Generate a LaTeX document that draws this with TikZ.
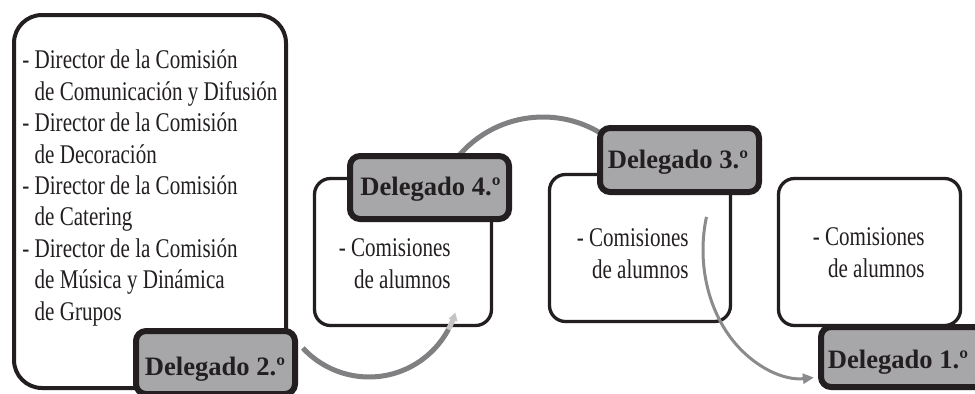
\documentclass[tikz,border=0pt]{standalone}
\usepackage{fontspec}
\usetikzlibrary{arrows.meta}
\newfontfamily\bodyfont[FakeStretch=0.78]{Liberation Serif}
\newfontfamily\delfont{Liberation Serif}
\definecolor{ink}{HTML}{231F20}
\definecolor{delfill}{HTML}{A7A7A9}
\definecolor{arcgray}{HTML}{808083}
\definecolor{arcpale}{HTML}{C4C4C6}
\definecolor{arcmid}{HTML}{8B8B8D}
\tikzset{
  bigbox/.style={draw=ink, line width=2pt, rounded corners=14pt},
  listbox/.style={draw=ink, line width=1.65pt, rounded corners=8pt},
  delbox/.style={draw=ink, fill=delfill, line width=3pt, rounded corners=5pt},
  bodytext/.style={font=\bodyfont\fontsize{13.5pt}{15.69pt}\selectfont, text=ink, inner sep=0pt},
  deltext/.style={font=\delfont\bfseries\fontsize{13.3pt}{16pt}\selectfont, text=ink, inner sep=0pt},
  cyclearc/.style={draw=arcgray, line width=2.5pt},
}
\begin{document}
\begin{tikzpicture}[x=0.5pt,y=-0.5pt]
\useasboundingbox (0,0) rectangle (975,393);
\clip (0,0) rectangle (975,393);
\fill[white] (0,0) rectangle (975,393);

% content boxes
\draw[bigbox]  (14,15) rectangle (286,388);
\draw[listbox] (314.5,178.5) rectangle (491.5,325.5);
\draw[listbox] (549.5,174.5) rectangle (730.5,321.5);
\draw[listbox] (778.5,178.5) rectangle (960.5,325.5);

% arcs
\coordinate (a1s) at ({369+90*cos(137.3)},{287+90*sin(137.3)});
\coordinate (a1m) at ({369+90*cos(28)},{287+90*sin(28)});
\draw[cyclearc] (a1s) arc[start angle=137.3, end angle=28, radius=90];
\draw[draw=arcpale, line width=2.5pt, -{Triangle[length=4pt,width=4.5pt]}] (a1m) arc[start angle=28, end angle=16.5, radius=90];

\coordinate (a2s) at ({543+111*cos(-140)},{228+111*sin(-140)});
\draw[cyclearc] (a2s) arc[start angle=-140, end angle=-55, radius=111];

\coordinate (a3s) at ({805+102*cos(195)},{250+128*sin(195)});
\draw[draw=arcmid, line width=1.5pt, -{Triangle[length=5.5pt,width=5pt]}] (a3s) arc[start angle=195, end angle=85, x radius=102, y radius=128];

% delegate boxes
\draw[delbox] (350,156) rectangle (509,219);
\draw[delbox] (600,128) rectangle (759,192);
\draw[delbox] (136,331) rectangle (295,394);
\draw[delbox] (821,327) rectangle (985,387);

% texts (base anchor = baseline of the last line)
\node[bodytext, align=left, anchor=base west] (list2) at (22,320) {- Director de la Comisión\\
\hphantom{- }de Comunicación y Difusión\\
- Director de la Comisión\\
\hphantom{- }de Decoración\\
- Director de la Comisión\\
\hphantom{- }de Catering\\
- Director de la Comisión\\
\hphantom{- }de Música y Dinámica\\
\hphantom{- }de Grupos};
\node[bodytext, align=right, anchor=base east] (list4) at (451,288) {- Comisiones\\de alumnos};
\node[bodytext, align=right, anchor=base east] (list3) at (689,278) {- Comisiones\\de alumnos};
\node[bodytext, align=right, anchor=base east] (list1) at (925,277) {- Comisiones\\de alumnos};

\node[deltext, anchor=base] (d4) at (430.5,195) {Delegado 4.º};
\node[deltext, anchor=base] (d3) at (678,168) {Delegado 3.º};
\node[deltext, anchor=base] (d2) at (215,375) {Delegado 2.º};
\node[deltext, anchor=base] (d1) at (898,368) {Delegado 1.º};
\end{tikzpicture}
\end{document}
